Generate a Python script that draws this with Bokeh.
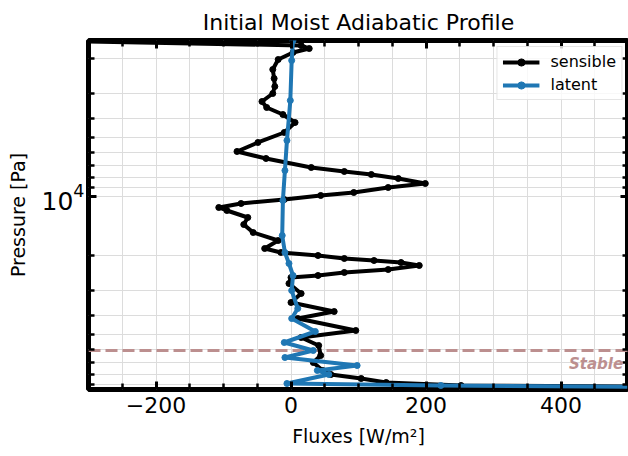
from bokeh.plotting import figure
from bokeh.models import Range1d, FixedTicker, LinearAxis, LogAxis, Span, Label
from bokeh.embed import file_html
from bokeh.resources import INLINE

# ---------------- data ----------------
p_sensible = [1615, 1712, 1774, 1858, 2017, 2266, 2518, 2765, 3000, 3295,
              3533, 3836, 4211, 4733, 5319, 5909, 6414, 7125, 7466, 7733,
              8102, 8591, 9002, 9543, 9884, 10357, 10852, 11372, 11777, 12782,
              13876, 15233, 16725, 18365, 19243, 19930, 20640, 21130, 21630, 22400,
              23480, 24310, 25180, 25780, 27650, 31080, 34520, 38360, 41630, 47880,
              51960, 57060, 64140, 69600, 76400, 80120, 83930, 87950, 91080, 95430]
sensible = [-380, 15, 27, 3, -19, -27, -25, -24, -27, -43,
            -36, -12, 6, -10, -49, -80, -37, 30, 79, 119,
            159, 199, 144, 93, 44, -10, -74, -107, -95, -64,
            -70, -56, -19, -39, -15, 40, 79, 123, 163, 190,
            144, 79, 40, 0, -3, 15, 0, 64, 10, 96,
            15, 41, 44, 33, 47, 59, 104, 141, 252, 1200]

p_latent = [1615, 2040, 3256, 5196, 7379, 10478, 15776, 19243, 21880, 25180,
            30010, 37030, 41630, 48450, 55100, 60500, 65670, 72110, 76400, 80120,
            88970, 91080, 95430]
latent = [3, 1, -1, -6, -9, -12, -13, -9, -3, 3,
          1, 10, 1, 36, -10, 33, -9, 98, 39, 56,
          -6, 222, 1200]

stable_pressure = 60500
stable_label_pressure = 70500
stable_label_flux = 492

x_major_ticks = [-200, 0, 200, 400]
x_minor_ticks = [-300, -250, -200, -150, -100, -50, 0, 50, 100, 150, 200,
                 250, 300, 350, 400, 450, 500]
y_major_ticks = [10000]
y_minor_ticks = [2000, 3000, 4000, 5000, 6000, 7000, 8000, 9000,
                 20000, 30000, 40000, 50000, 60000, 70000, 80000, 90000]

FONT = "DejaVu Sans"
BLUE = "#1f77b4"
ROSY = "#bc8f8f"

p = figure(width=628, height=456,
           x_range=Range1d(-300, 500), y_range=Range1d(95430, 1615),
           y_axis_type="log", output_backend="svg", toolbar_location=None,
           min_border_left=88, min_border_right=0, min_border_top=40,
           min_border_bottom=67, title="Initial Moist Adiabatic Profile")

p.background_fill_color = "white"
p.border_fill_color = "white"
p.outline_line_color = "black"
p.outline_line_width = 5

p.title.text_font = FONT
p.title.text_font_size = "22px"
p.title.text_font_style = "normal"
p.title.align = "center"
p.title.text_color = "black"
p.title.standoff = 12

xticker = FixedTicker(ticks=x_major_ticks, minor_ticks=x_minor_ticks)
yticker = FixedTicker(ticks=y_major_ticks, minor_ticks=y_minor_ticks)

p.xaxis.ticker = xticker
p.yaxis.ticker = yticker


def style_axis(ax, labels=True):
    ax.axis_line_color = None
    ax.major_tick_in = 8
    ax.major_tick_out = 0
    ax.minor_tick_in = 6
    ax.minor_tick_out = 0
    ax.major_tick_line_width = 3
    ax.minor_tick_line_width = 2.5
    ax.major_tick_line_color = "black"
    ax.minor_tick_line_color = "black"
    if labels:
        ax.major_label_text_font = FONT
        ax.major_label_text_font_size = "22px"
        ax.major_label_text_color = "black"
        ax.axis_label_text_font = FONT
        ax.axis_label_text_font_size = "19px"
        ax.axis_label_text_font_style = "normal"
        ax.axis_label_text_color = "black"
    else:
        ax.major_label_text_font_size = "1px"
        ax.major_label_text_alpha = 0
        ax.major_label_standoff = 0


for ax in p.xaxis:
    style_axis(ax)
    ax.axis_label = "Fluxes [W/m²]"
    ax.major_label_standoff = 7
    ax.axis_label_standoff = 9
for ax in p.yaxis:
    style_axis(ax)
    ax.axis_label = "Pressure [Pa]"
    ax.major_label_text_font_size = "25px"
    ax.major_label_standoff = 4
    ax.axis_label_standoff = 10

top_axis = LinearAxis(ticker=xticker)
style_axis(top_axis, labels=False)
p.add_layout(top_axis, "above")
right_axis = LogAxis(ticker=yticker)
style_axis(right_axis, labels=False)
p.add_layout(right_axis, "right")

for g in (p.xgrid[0], p.ygrid[0]):
    g.grid_line_color = "#dcdcdc"
    g.grid_line_width = 1
    g.minor_grid_line_color = "#dcdcdc"
    g.minor_grid_line_width = 1
p.xgrid[0].ticker = xticker
p.ygrid[0].ticker = yticker

stable = Span(location=stable_pressure, dimension="width", line_color=ROSY,
              line_width=3, line_dash="12 5", level="underlay")
p.add_layout(stable)

p.line(sensible, p_sensible, line_color="black", line_width=4, line_join="round",
       legend_label="sensible")
p.scatter(sensible, p_sensible, marker="circle", size=6, color="black",
          legend_label="sensible")
p.line(latent, p_latent, line_color=BLUE, line_width=4, line_join="round",
       legend_label="latent")
p.scatter(latent, p_latent, marker="circle", size=6, color=BLUE,
          legend_label="latent")

p.add_layout(Label(x=stable_label_flux, y=stable_label_pressure, text="Stable",
                   text_align="right", text_baseline="alphabetic",
                   text_font=FONT, text_font_style="bold italic",
                   text_font_size="15px", text_color=ROSY))

leg = p.legend[0]
leg.location = "top_right"
leg.margin = 6
leg.padding = 5
leg.spacing = 4
leg.glyph_width = 37
leg.glyph_height = 18
leg.label_standoff = 11
leg.label_text_font = FONT
leg.label_text_font_size = "16px"
leg.label_text_color = "black"
leg.border_line_color = "#cccccc"
leg.border_line_width = 1.5
leg.background_fill_alpha = 0.8

open("out.html", "w").write(file_html(p, INLINE))
